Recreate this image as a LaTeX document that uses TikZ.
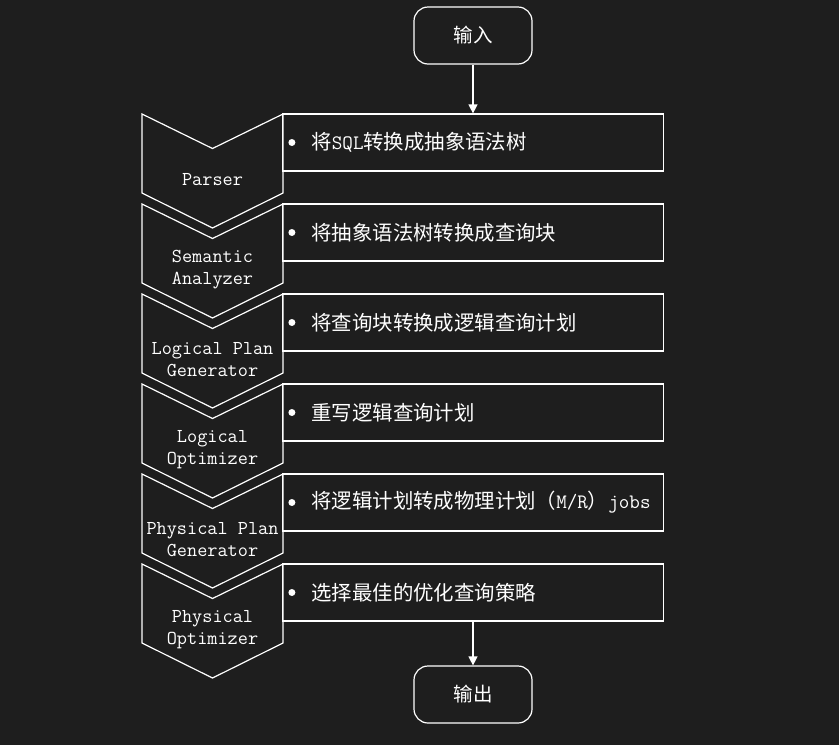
\documentclass[tikz,border=0pt]{standalone}
\usepackage{fontspec}
\newfontfamily\cjk{Noto Sans CJK SC}
\usetikzlibrary{arrows.meta,positioning,calc}
\definecolor{bgdark}{HTML}{1E1E1E}
\newcommand{\lat}[1]{{\ttfamily\fontsize{20.5}{22}\selectfont #1}}
\tikzset{
    >={Triangle[width=9pt,length=9pt]},
    every picture/.style={line width=1.2pt},
    terminal/.style={draw=white,rounded corners=14pt,minimum width=118pt,minimum height=57pt,
        text=white,font=\cjk\fontsize{19.5}{22}\selectfont},
    descbox/.style={draw=white,minimum width=381pt,minimum height=57pt,inner sep=0pt},
    stagetext/.style={text=white,align=center,font=\ttfamily\fontsize{19.7}{22}\selectfont},
    desctext/.style={anchor=west,text=white,inner sep=0pt,font=\cjk\fontsize{20.4}{22}\selectfont}
}

\begin{document}
\begin{tikzpicture}[x=1pt,y=-1pt,line join=miter]
        \fill[bgdark] (0,0) rectangle (839,745);
        \useasboundingbox (0,0) rectangle (839,745);

        % Input
        \node[terminal] (in) at (473,35.5) {输入};

        % Stages
        \foreach \i/\name/\desc in {
            0/Parser/{将\lat{SQL}转换成抽象语法树},
            1/{Semantic\\Analyzer}/{将抽象语法树转换成查询块},
            2/{Logical Plan\\Generator}/{将查询块转换成逻辑查询计划},
            3/{Logical\\Optimizer}/{重写逻辑查询计划},
            4/{Physical Plan\\Generator}/{将逻辑计划转成物理计划（\lat{M/R}）\lat{jobs}},
            5/{Physical\\Optimizer}/{选择最佳的优化查询策略}}{
            \pgfmathsetmacro\t{114+90*\i}
            \draw[white] (142,\t) -- (212.5,\t+34.5) -- (283,\t) -- (283,\t+79)
                -- (212.5,\t+114) -- (142,\t+79) -- cycle;
            \node[stagetext] (s\i) at (212.5,\t+66) {\name};
            \node[descbox] (d\i) at (473,\t+28.5) {};
            \fill[white] ([xshift=10pt]d\i.west) circle (3.5pt);
            \node[desctext] (t\i) at ([xshift=29pt]d\i.west) {\desc};
        }

        % Output
        \node[terminal] (out) at (473,694.5) {输出};

        \draw[white,->] (in.south) -- (d0.north);
        \draw[white,->] (d5.south) -- (out.north);
\end{tikzpicture}
\end{document}
